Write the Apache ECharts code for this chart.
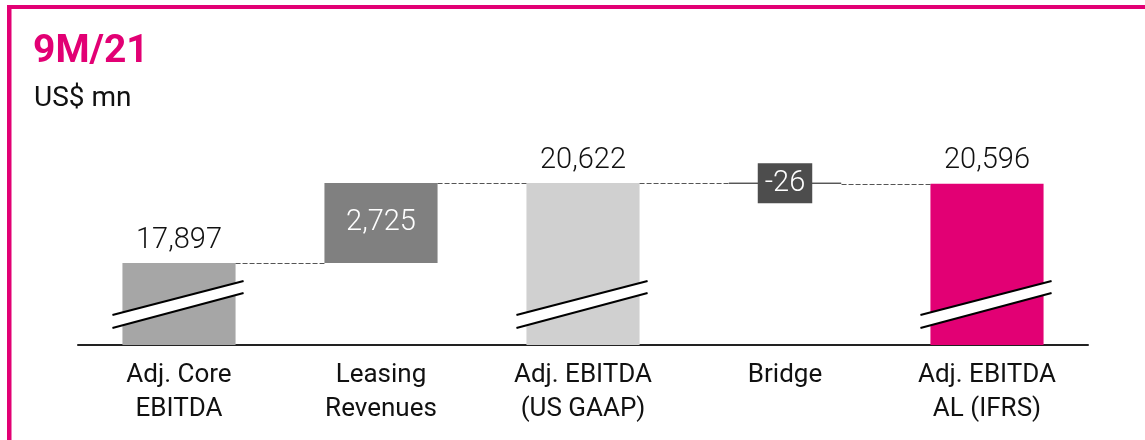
<!DOCTYPE html>
<html>
<head>
<meta charset="utf-8">
<script src="https://cdn.jsdelivr.net/npm/echarts@6/dist/echarts.min.js"></script>
<style>
html,body{margin:0;padding:0;background:#fff;}
#chart{width:1145px;height:440px;}
</style>
</head>
<body>
<div id="chart"></div>
<script>
// ---- data ----
const categories = ['Adj. Core\nEBITDA', 'Leasing\nRevenues', 'Adj. EBITDA\n(US GAAP)', 'Bridge', 'Adj. EBITDA\nAL (IFRS)'];
const values = [17897, 2725, 20622, -26, 20596];
const kinds = ['total', 'delta', 'total', 'delta', 'total'];
const titleText = '9M/21';
const unitText = 'US$ mn';

// ---- styles ----
const barColors = ['#a6a6a6', '#808080', '#d0d0d0', '#4d4d4d', '#e20074'];
const MAGENTA = '#e20074';
const Y_MIN = 15110, Y_MAX = 23100;
const BAR_RATIO = 0.56;
const FONT = 'Roboto';

// derived waterfall geometry (from values)
const baseData = [], heightData = [], levels = [];
let running = 0;
values.forEach((v, i) => {
  if (kinds[i] === 'total') {
    baseData.push(0); heightData.push(v); running = v;
  } else {
    if (v >= 0) { baseData.push(running); heightData.push(v); }
    else { baseData.push(running + v); heightData.push(-v); }
    running += v;
  }
  levels.push(running);
});
const fmt = v => v.toLocaleString('en-US');

const visibleData = heightData.map((h, i) => {
  const item = { value: h, itemStyle: { color: barColors[i] } };
  if (kinds[i] === 'total') {
    item.label = { show: true, position: 'top', distance: 8, color: '#111', fontSize: 29, fontWeight: 300, fontFamily: FONT, formatter: () => fmt(values[i]) };
  } else if (values[i] >= 0) {
    item.label = { show: true, position: 'inside', color: '#fff', fontSize: 29, fontWeight: 300, fontFamily: FONT, formatter: () => fmt(values[i]) };
  } else {
    item.itemStyle = { color: barColors[i], borderColor: '#4d4d4d', borderWidth: 1 };
    item.label = { show: true, position: 'inside', color: '#fff', fontSize: 29, fontWeight: 300, fontFamily: FONT,
      backgroundColor: '#4d4d4d', padding: [6, 7, 5, 7], formatter: () => fmt(values[i]) };
  }
  return item;
});

const connectorData = levels.slice(0, -1).map((l, i) => [i, l]);
const slashData = kinds.map((k, i) => k === 'total' ? [i] : null).filter(d => d);

const chart = echarts.init(document.getElementById('chart'), null, { renderer: 'canvas' });
chart.setOption({
  animation: false,
  grid: { left: 78, right: 57, top: 110, bottom: 95 },
  xAxis: {
    type: 'category', data: categories,
    axisLine: { lineStyle: { color: '#222', width: 2 } },
    axisTick: { show: false },
    axisLabel: { color: '#111', fontSize: 26, lineHeight: 34, fontFamily: FONT, margin: 13, interval: 0 }
  },
  yAxis: { type: 'value', min: Y_MIN, max: Y_MAX, show: false, splitLine: { show: false } },
  graphic: [
    { type: 'rect', shape: { x: 7, y: 5, width: 1145, height: 4 }, style: { fill: MAGENTA }, silent: true },
    { type: 'rect', shape: { x: 7, y: 5, width: 4.5, height: 440 }, style: { fill: MAGENTA }, silent: true },
    { type: 'text', left: 33, top: 33, style: { text: titleText, fill: MAGENTA, font: 'bold 39px Roboto' } },
    { type: 'text', left: 34, top: 85, style: { text: unitText, fill: '#111', font: '28px Roboto' } }
  ],
  series: [
    { type: 'bar', stack: 'w', data: baseData, itemStyle: { color: 'transparent' }, barWidth: (BAR_RATIO * 100) + '%', silent: true },
    { type: 'bar', stack: 'w', data: visibleData, barWidth: (BAR_RATIO * 100) + '%' },
    {
      type: 'custom', z: 4, data: connectorData,
      renderItem: (params, api) => {
        const i = api.value(0), l = api.value(1);
        const p1 = api.coord([i, l]), p2 = api.coord([i + 1, l]);
        const hw = api.size([1, 0])[0] * BAR_RATIO / 2;
        const y = Math.round(p1[1]) + 0.5;
        return { type: 'line', shape: { x1: p1[0] + hw, y1: y, x2: p2[0] - hw, y2: y },
          style: { stroke: '#555', lineWidth: 1, lineDash: [5, 2] } };
      }
    },
    {
      type: 'custom', z: 5, data: slashData,
      renderItem: (params, api) => {
        const i = api.value(0);
        const p = api.coord([i, Y_MIN]);
        const hw = api.size([1, 0])[0] * BAR_RATIO / 2;
        const xl = p[0] - hw - 10, xr = p[0] + hw + 8;
        const yb = p[1];
        const u1 = yb - 30, u2 = yb - 64, d1 = yb - 17, d2 = yb - 52;
        return { type: 'group', children: [
          { type: 'polygon', shape: { points: [[xl, u1], [xr, u2], [xr, d2], [xl, d1]] }, style: { fill: '#fff' } },
          { type: 'line', shape: { x1: xl, y1: u1, x2: xr, y2: u2 }, style: { stroke: '#000', lineWidth: 2 } },
          { type: 'line', shape: { x1: xl, y1: d1, x2: xr, y2: d2 }, style: { stroke: '#000', lineWidth: 2 } }
        ] };
      }
    }
  ]
});
</script>
</body>
</html>
